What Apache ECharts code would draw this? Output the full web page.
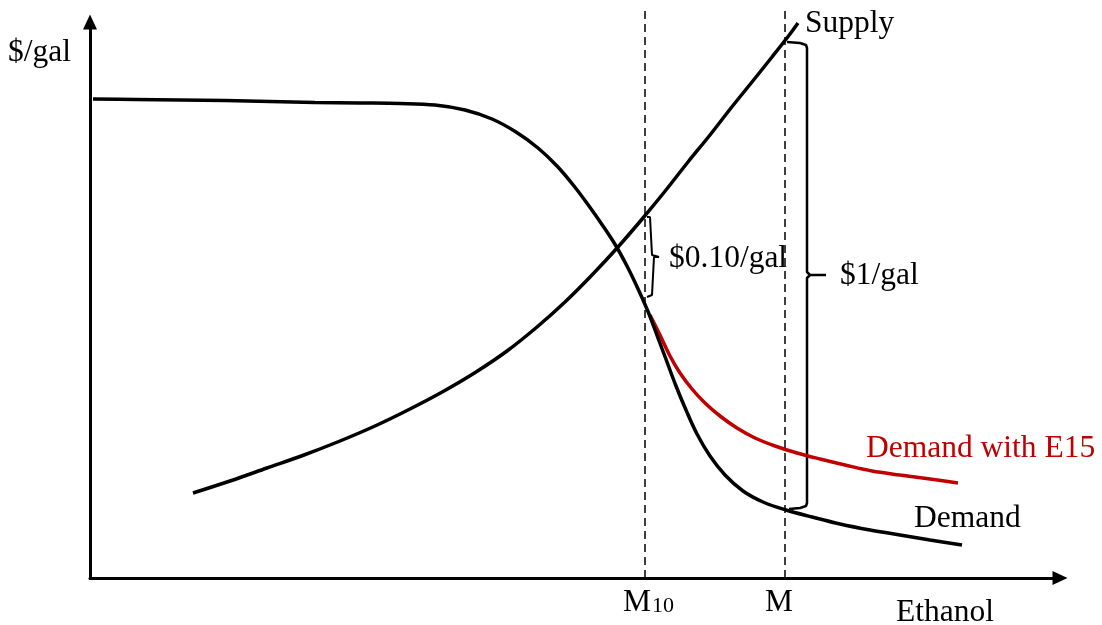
<!DOCTYPE html>
<html>
<head>
<meta charset="utf-8">
<style>html,body{margin:0;padding:0;background:#fff;}#chart{width:1102px;height:625px;}</style>
<script src="https://cdn.jsdelivr.net/npm/echarts@6/dist/echarts.min.js"></script>
</head>
<body>
<div id="chart"></div>
<script>
// Quantity (x) and price (y) in arbitrary diagram units
const demand = [[3,479],[45,478.5],[90,478],[135,477.5],[180,476.5],[225,475.5],[270,475],[310,474.5],[345,473],[375,468],[402,459],[426,446],[448,430],[467,412],[484,392],[499,372],[513,352],[526,332],[538,310],[549,287],[559,264],[568,240],[577,216],[586,192],[596,168],[607,144],[620,122],[635,103],[653,87],[673,76],[696,68],[722,61],[750,54],[780,48],[810,43],[840,38],[872,33]];
const demandE15 = [[560,263],[570,243],[580,222],[590,205],[602,189],[615,175],[630,162],[647,150],[665,140],[685,132],[707,125],[730,119],[755,113],[782,107],[810,103],[840,99],[868,95]];
const supply = [[103,85],[140,97],[177,110],[214,123],[250,137],[285,152],[320,169],[354,187],[386,206],[417,227],[447,251],[475,276],[502,303],[528,331],[553,360],[576,388],[598,416],[620,443],[641,470],[662,496],[682,521],[700,544],[708,555]];
const m10Line = [[555,0],[555,570]];
const mLine = [[695,0],[695,570]];
const bracketSmall = [[557,361],[560,361],[562,359],[562,323],[564,321],[569,321],[564,321],[562,319],[562,283],[560,281],[557,281]];
const bracketBig = [[697,536],[710,535],[716,533],[717,530],[717,306],[720,303],[736,303],[720,303],[717,300],[717,75],[716,72],[710,70],[699,69]];

const FONT = '"Liberation Serif","Times New Roman",serif';
const chart = echarts.init(document.getElementById('chart'));

function curve(data, color, width, extra) {
  return Object.assign({
    type: 'line', data: data, symbol: 'none', silent: true, clip: false,
    lineStyle: { color: color, width: width }
  }, extra || {});
}
function text(str, x, y, size, color) {
  return { type: 'text', x: x, y: y, silent: true,
    style: { text: str, font: size + 'px ' + FONT, fill: color || '#000', verticalAlign: 'middle', align: 'left' } };
}
const axisCommon = {
  axisLine: { show: true, onZero: false, symbol: ['none', 'triangle'], symbolSize: [14, 15], lineStyle: { color: '#000', width: 3 } },
  axisTick: { show: false }, axisLabel: { show: false }, splitLine: { show: false }
};

chart.setOption({
  animation: false,
  backgroundColor: '#fff',
  grid: { left: 90, right: 42, top: 22, bottom: 47 },
  xAxis: Object.assign({ type: 'value', min: 0, max: 970 }, axisCommon),
  yAxis: Object.assign({ type: 'value', min: 0, max: 556 }, axisCommon),
  series: [
    curve(m10Line, '#000', 1.5, { lineStyle: { color: '#000', width: 1.5, type: [8, 5] } }),
    curve(mLine, '#000', 1.5, { lineStyle: { color: '#000', width: 1.5, type: [8, 5] } }),
    curve(bracketSmall, '#000', 2),
    curve(bracketBig, '#000', 2.5),
    curve(demandE15, '#C00000', 3.5, { smooth: 0.35 }),
    curve(demand, '#000', 3.5, { smooth: 0.35 }),
    curve(supply, '#000', 3.5, { smooth: 0.35 })
  ],
  graphic: [
    text('$/gal', 8, 53, 31.5),
    text('Supply', 805, 24, 31.5),
    text('$0.10/gal', 669, 259, 31.5),
    text('$1/gal', 840, 276, 31.5),
    text('Demand with E15', 866, 449, 31.5, '#C00000'),
    text('Demand', 914, 519, 31.5),
    text('M', 623, 603, 31.5),
    text('10', 652, 606.5, 22),
    text('M', 765, 603, 31.5),
    text('Ethanol', 896, 613, 31.5)
  ]
});
</script>
</body>
</html>
